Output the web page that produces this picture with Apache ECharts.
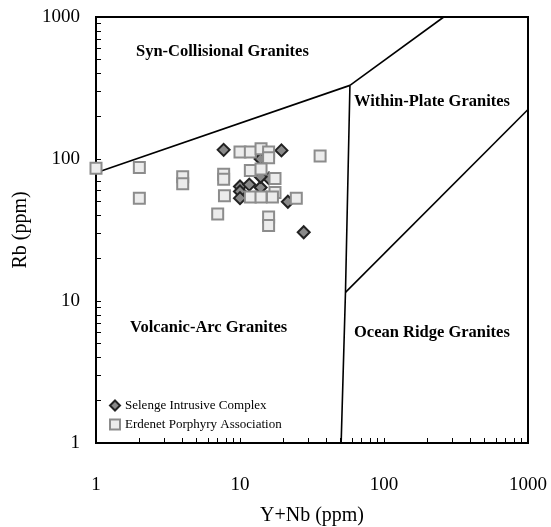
<!DOCTYPE html>
<html><head><meta charset="utf-8">
<script src="https://cdn.jsdelivr.net/npm/echarts@6/dist/echarts.min.js"></script>
<style>html,body{margin:0;padding:0;background:#fff}#c{width:551px;height:527px}</style>
</head><body><div id="c"></div>
<script>
// Axis ticks
const majorTicks = [1, 10, 100, 1000];
const allTicks = [1,2,3,4,5,6,7,8,9,10,20,30,40,50,60,70,80,90,100,200,300,400,500,600,700,800,900,1000];

// Selenge Intrusive Complex: [Y+Nb, Rb]
const selengeX = [7.7, 19.4, 13.9, 10, 10, 11.6, 13.9, 15.9, 13.9, 10, 21.5, 27.7];
const selengeY = [116, 115, 100, 64, 59, 66, 63, 73, 75, 53, 50, 30.5];

// Erdenet Porphyry Association: [Y+Nb, Rb]
const erdenetX = [1, 2, 2, 4, 4, 7.7, 7.7, 7.8, 7, 10, 11.8, 14, 15.8, 15.8, 11.8, 14, 17.5, 17.5, 11.8, 14, 16.8, 24.6, 36, 15.8, 15.8];
const erdenetY = [86, 87, 53, 75, 67, 78, 72, 55, 41, 112, 112, 118, 112, 102, 83, 85, 73, 58, 54, 54, 54, 53, 105, 39, 34];

// Discrimination boundaries (Y+Nb, Rb)
const boundVagSyn = [[1, 80], [58, 330]];
const boundSynWpg = [[58, 330], [260, 1000]];
const boundVagWpg = [[58, 330], [54, 11.5], [50.4, 1]];
const boundOrgWpg = [[54, 11.5], [1000, 223]];

const regionLabels = ["Syn-Collisional Granites", "Within-Plate Granites", "Volcanic-Arc Granites", "Ocean Ridge Granites"];

const zip = (xs, ys) => xs.map((x, i) => [x, ys[i]]);
const serif = "Liberation Serif";

const chart = echarts.init(document.getElementById('c'), null, {renderer: 'canvas'});
const lineSeries = (d) => ({
  type: 'line', data: d, showSymbol: false, symbol: 'none', silent: true,
  lineStyle: {color: '#000', width: 1.6}, z: 1, animation: false
});

function axisCommon(name, nameGap, labelMargin) {
  return {
    type: 'log', logBase: 10, min: 1, max: 1000,
    name: name, nameLocation: 'middle', nameGap: nameGap,
    nameTextStyle: {fontFamily: serif, fontSize: 20, color: '#000'},
    axisLine: {show: true, lineStyle: {color: '#000', width: 2}},
    axisTick: {show: true, inside: true, length: 5, lineStyle: {color: '#000', width: 1}, customValues: allTicks},
    axisLabel: {fontFamily: serif, fontSize: 19, color: '#000', margin: labelMargin, customValues: majorTicks,
      formatter: (v) => String(Math.round(v))},
    splitLine: {show: false},
    minorTick: {show: false}
  };
}

const labelFont = 'bold 16.5px "Liberation Serif"';

chart.setOption({
  animation: false,
  backgroundColor: '#fff',
  grid: {left: 96, right: 23, top: 17, bottom: 84, outerBoundsMode: 'none', containLabel: false,
    show: true, borderColor: '#000', borderWidth: 2, backgroundColor: 'transparent'},
  xAxis: axisCommon('Y+Nb (ppm)', 63, 33),
  yAxis: Object.assign(axisCommon('Rb (ppm)', 60, 16), {nameRotate: 90}),
  legend: {
    orient: 'vertical', left: 104, top: 394, itemGap: 6, itemWidth: 10, itemHeight: 10,
    textStyle: {fontFamily: serif, fontSize: 13, color: '#000'},
    data: ['Selenge Intrusive Complex', 'Erdenet Porphyry Association']
  },
  series: [
    lineSeries(boundVagSyn), lineSeries(boundSynWpg), lineSeries(boundVagWpg), lineSeries(boundOrgWpg),
    {
      name: 'Selenge Intrusive Complex', type: 'scatter', data: zip(selengeX, selengeY),
      symbol: 'diamond', symbolSize: 12, z: 3,
      itemStyle: {color: '#8a8a8a', borderColor: '#222', borderWidth: 2, opacity: 1}
    },
    {
      name: 'Erdenet Porphyry Association', type: 'scatter', data: zip(erdenetX, erdenetY),
      symbol: 'rect', symbolSize: 11, z: 4,
      itemStyle: {color: '#ececec', borderColor: '#8c8c8c', borderWidth: 2, opacity: 1}
    }
  ],
  graphic: [
    {type: 'text', left: 136, top: 43, style: {text: regionLabels[0], font: labelFont, fill: '#000'}},
    {type: 'text', left: 354, top: 93, style: {text: regionLabels[1], font: labelFont, fill: '#000'}},
    {type: 'text', left: 130, top: 319, style: {text: regionLabels[2], font: labelFont, fill: '#000'}},
    {type: 'text', left: 354, top: 324, style: {text: regionLabels[3], font: labelFont, fill: '#000'}}
  ]
});
</script>
</body></html>
